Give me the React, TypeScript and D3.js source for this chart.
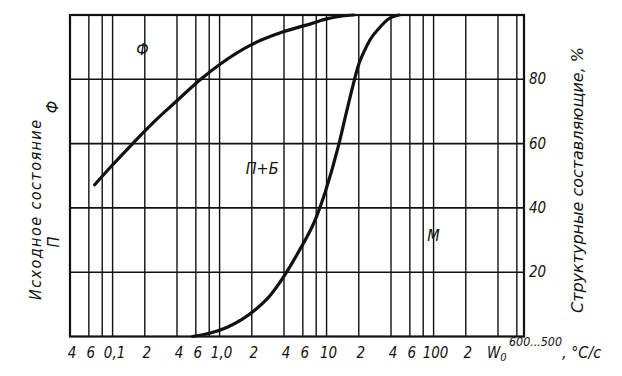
import React from "react";
import * as d3 from "d3";

// cooling rate, °C/s (log axis) and structural constituent share, %
const ferriteRate = [0.068, 0.094, 0.155, 0.241, 0.372, 0.671, 1.04, 1.99, 3.81, 7.31, 10, 14, 18];
const ferriteFrac = [47.2, 52.4, 60.1, 66.6, 72.4, 80.1, 85.0, 90.8, 94.6, 97.4, 98.8, 99.7, 100];

const martRate = [0.56, 0.82, 1.18, 2.17, 3.01, 3.92, 5.46, 7.95, 9.73, 12.8, 15.4, 18.1, 19.8, 22.4, 25.5, 30.8, 38.4, 47.6];
const martFrac = [0, 1.1, 2.9, 8.4, 13.0, 18.3, 26.3, 36.8, 45.0, 58.8, 70.0, 79.5, 84.3, 88.6, 92.3, 95.8, 98.9, 100];

const gridRates = [0.06, 0.08, 0.1, 0.2, 0.4, 0.6, 0.8, 1, 2, 4, 6, 8, 10, 20, 40, 60, 80, 100, 200, 400, 600];
const tickRates = [0.04, 0.06, 0.1, 0.2, 0.4, 0.6, 1, 2, 4, 6, 10, 20, 40, 60, 100, 200];
const tickLabels = ["4", "6", "0,1", "2", "4", "6", "1,0", "2", "4", "6", "10", "2", "4", "6", "100", "2"];
const yTicks = [20, 40, 60, 80];
const xDomain = [0.04, 700];

const regionLabels = [
  { text: "Ф", rate: 0.19, frac: 89 },
  { text: "П+Б", rate: 2.5, frac: 52 },
  { text: "М", rate: 100, frac: 31 },
];

const FONT = "'DejaVu Sans Condensed', 'Liberation Sans', sans-serif";

export default function App() {
  const x = d3.scaleLog().domain(xDomain).range([70, 524]);
  const y = d3.scaleLinear().domain([0, 100]).range([336.5, 15]);
  const [x0, x1] = x.range();
  const [yb, yt] = y.range();

  const line = d3
    .line<[number, number]>()
    .x((d) => x(d[0]))
    .y((d) => y(d[1]))
    .curve(d3.curveMonotoneX);

  const ferrite = ferriteRate.map((r, i) => [r, ferriteFrac[i]] as [number, number]);
  const mart = martRate.map((r, i) => [r, martFrac[i]] as [number, number]);

  const stroke = "#111";
  const txt = { fontFamily: FONT, fontStyle: "italic" as const, fill: "#111" };

  return (
    <svg
      width={622}
      height={376}
      style={{ position: "absolute", left: 0, top: 0, background: "#fff" }}
    >
      <rect x={0} y={0} width={622} height={376} fill="#fff" />
      {/* vertical grid */}
      {gridRates.map((r) => (
        <line key={"v" + r} x1={x(r)} x2={x(r)} y1={yt} y2={yb} stroke={stroke} strokeWidth={1.4} />
      ))}
      {/* horizontal grid */}
      {yTicks.map((v) => (
        <line key={"h" + v} x1={x0} x2={x1} y1={y(v)} y2={y(v)} stroke={stroke} strokeWidth={1.6} />
      ))}
      {/* frame */}
      <rect x={x0} y={yt} width={x1 - x0} height={yb - yt} fill="none" stroke={stroke} strokeWidth={2.2} />

      {/* curves */}
      <path d={line(ferrite) || ""} fill="none" stroke={stroke} strokeWidth={3.2} strokeLinecap="round" />
      <path d={line(mart) || ""} fill="none" stroke={stroke} strokeWidth={3.2} strokeLinecap="round" />

      {/* region labels */}
      {regionLabels.map((l) => (
        <text key={l.text} x={x(l.rate)} y={y(l.frac)} textAnchor="middle" dominantBaseline="middle" fontSize={16} {...txt}>
          {l.text}
        </text>
      ))}

      {/* x tick labels */}
      {tickRates.map((r, i) => (
        <text key={"t" + i} x={x(r) + 2} y={358} textAnchor="middle" fontSize={15} {...txt}>
          {tickLabels[i]}
        </text>
      ))}
      <text x={487} y={358} fontSize={15} {...txt}>
        W<tspan fontSize={11} dy={3}>0</tspan>
      </text>
      <text x={509} y={346} fontSize={12} textLength={53} lengthAdjust="spacingAndGlyphs" {...txt}>600...500</text>
      <text x={562} y={358} fontSize={16} {...txt}>, °С/с</text>

      {/* right y labels */}
      {yTicks.map((v) => (
        <text key={"y" + v} x={529} y={y(v) + 5} fontSize={15} {...txt}>
          {v}
        </text>
      ))}

      {/* right axis title */}
      <text
        transform="translate(583,180) rotate(-90)"
        textAnchor="middle"
        fontSize={16}
        textLength={266}
        lengthAdjust="spacingAndGlyphs"
        {...txt}
      >
        Структурные составляющие, %
      </text>

      {/* left title */}
      <text
        transform="translate(41,210) rotate(-90)"
        textAnchor="middle"
        fontSize={16}
        textLength={180}
        lengthAdjust="spacing"
        {...txt}
      >
        Исходное  состояние
      </text>
      <text transform="translate(58,107) rotate(-90)" textAnchor="middle" fontSize={16} {...txt}>
        Ф
      </text>
      <text transform="translate(59,242) rotate(-90)" textAnchor="middle" fontSize={16} {...txt}>
        П
      </text>
    </svg>
  );
}
